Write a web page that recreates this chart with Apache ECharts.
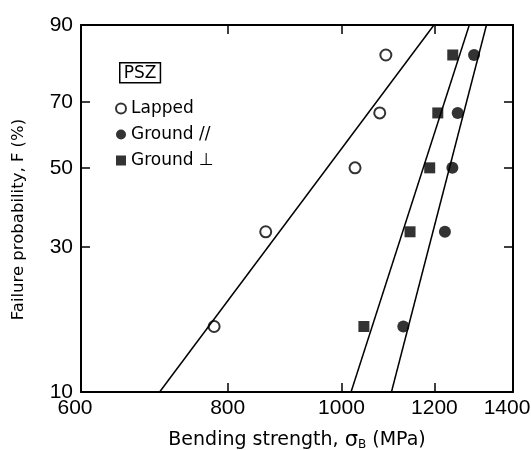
<!DOCTYPE html>
<html lang="en">
<head>
    <meta charset="UTF-8">
    <title>Weibull plot PSZ</title>
    <script src="https://cdn.jsdelivr.net/npm/echarts@6/dist/echarts.min.js"></script>
</head>
<body style="margin:0">
<div id="main" style="width:531px;height:450px;"></div>
<script type="text/javascript">
    // failure probability (%) for the 5 specimens, i/(n+1)
    var probs = [16.7, 33.3, 50, 66.7, 83.3];
    // bending strength (MPa)
    var lapped = [779, 862, 1027, 1078, 1091];
    var groundPar = [1129, 1225, 1243, 1256, 1297];
    var groundPerp = [1045, 1144, 1189, 1208, 1244];
    // fitted lines: [strength at F=10%, strength at F=90%]
    var lappedFit = [700, 1199];
    var groundParFit = [1103, 1329];
    var groundPerpFit = [1019, 1285];
    var fitProbs = [10, 90];
    var xTicks = [600, 800, 1000, 1200, 1400];
    var yTicks = [10, 30, 50, 70, 90];

    function weib(p) { return Math.log(-Math.log(1 - p / 100)); }
    function unweib(w) { return Math.round(100 * (1 - Math.exp(-Math.exp(w)))); }

    function pts(xs, ps) {
        var out = [];
        for (var i = 0; i < xs.length; i++) out.push([xs[i], weib(ps[i])]);
        return out;
    }

    var font = 'DejaVu Sans';
    var numFont = 'Liberation Sans';
    var yMin = weib(10), yMax = weib(90);
    var yTickVals = yTicks.map(weib);

    var myChart = echarts.init(document.getElementById('main'));
    var axisLine = {onZero: false, lineStyle: {color: '#000', width: 2}};
    var tick = {inside: true, length: 9, lineStyle: {color: '#000', width: 1.5}};
    var option = {
        animation: false,
        backgroundColor: '#fff',
        textStyle: {fontFamily: font},
        grid: {left: 81, right: 18, top: 25, bottom: 58, outerBoundsMode: 'none', containLabel: false},
        xAxis: [{
            type: 'log', min: 600, max: 1400, logBase: 10,
            axisLine: axisLine, splitLine: {show: false},
            axisTick: Object.assign({customValues: [800, 1000, 1200]}, tick),
            axisLabel: {color: '#000', fontSize: 21, fontFamily: numFont, margin: 6, customValues: xTicks,
                formatter: function (v) {
                    if (v <= 600 || v >= 1400) return '{e|' + v + '}';
                    return String(v);
                },
                rich: {
                    e: {fontSize: 21, fontFamily: numFont, color: '#000', padding: [0, 12, 0, 0]}
                }},
            minorTick: {show: false},
            name: 'Bending strength, {s|σ}{b|B} (MPa)',
            nameLocation: 'middle', nameGap: 38,
            nameTextStyle: {color: '#000', fontSize: 19, fontFamily: font,
                rich: {s: {fontSize: 21, color: '#000', fontFamily: font},
                    b: {fontSize: 12, color: '#000', fontFamily: font, verticalAlign: 'bottom', padding: [7, 0, 0, 0]}}}
        }, {
            type: 'log', min: 600, max: 1400, logBase: 10, position: 'top',
            axisLine: axisLine, splitLine: {show: false},
            axisTick: Object.assign({customValues: [800, 1000, 1200]}, tick),
            axisLabel: {show: false}
        }],
        yAxis: [{
            type: 'value', min: yMin, max: yMax,
            axisLine: axisLine, splitLine: {show: false},
            axisTick: Object.assign({customValues: yTickVals.slice(1, 4)}, tick),
            axisLabel: {color: '#000', fontSize: 21, fontFamily: numFont, margin: 8, customValues: yTickVals,
                formatter: function (v) { return unweib(v); }},
            name: 'Failure probability, F (%)',
            nameLocation: 'middle', nameGap: 54,
            nameTextStyle: {color: '#000', fontSize: 16.5, fontFamily: font, padding: [0, 22, 0, 0]}
        }, {
            type: 'value', min: yMin, max: yMax, position: 'right',
            axisLine: axisLine, splitLine: {show: false},
            axisTick: Object.assign({customValues: yTickVals.slice(1, 4)}, tick),
            axisLabel: {show: false}
        }],
        legend: {
            orient: 'vertical', left: 110, top: 95, itemGap: 9,
            itemWidth: 10, itemHeight: 10,
            textStyle: {color: '#000', fontSize: 17, fontFamily: font},
            data: ['Lapped', 'Ground //', 'Ground ⊥']
        },
        graphic: [{
            type: 'text', left: 119, top: 62,
            style: {text: 'PSZ', fill: '#000', fontSize: 17, fontFamily: font,
                borderColor: '#000', borderWidth: 1.5, padding: [2, 4, 1, 4]}
        }],
        series: [
            {name: 'Lapped', type: 'scatter', symbol: 'emptyCircle', symbolSize: 11,
                itemStyle: {color: '#000', borderWidth: 1.3}, data: pts(lapped, probs)},
            {name: 'Ground //', type: 'scatter', symbol: 'circle', symbolSize: 12,
                itemStyle: {color: '#000'}, data: pts(groundPar, probs)},
            {name: 'Ground ⊥', type: 'scatter', symbol: 'rect', symbolSize: 11,
                itemStyle: {color: '#000'}, data: pts(groundPerp, probs)},
            {type: 'line', symbol: 'none', lineStyle: {color: '#000', width: 1.5}, data: pts(lappedFit, fitProbs)},
            {type: 'line', symbol: 'none', lineStyle: {color: '#000', width: 1.5}, data: pts(groundParFit, fitProbs)},
            {type: 'line', symbol: 'none', lineStyle: {color: '#000', width: 1.5}, data: pts(groundPerpFit, fitProbs)}
        ]
    };
    myChart.setOption(option);
</script>
</body>
</html>
